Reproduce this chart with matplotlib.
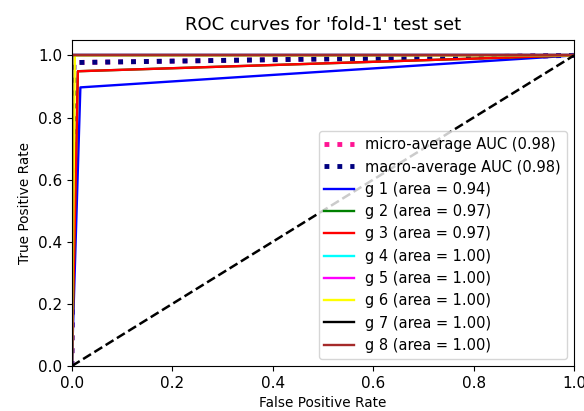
import numpy as np
import matplotlib
matplotlib.use('Agg')
import matplotlib.pyplot as plt

# ROC points (fpr, tpr)
micro_fpr = [0.0, 0.004, 1.0]
micro_tpr = [0.0, 0.977, 1.0]
macro_fpr = [0.0, 0.004, 1.0]
macro_tpr = [0.0, 0.977, 1.0]

class_names = ['g 1', 'g 2', 'g 3', 'g 4', 'g 5', 'g 6', 'g 7', 'g 8']
class_auc = [0.94, 0.97, 0.97, 1.00, 1.00, 1.00, 1.00, 1.00]
class_fpr = [
    [0.0, 0.017, 1.0],
    [0.0, 0.012, 1.0],
    [0.0, 0.012, 1.0],
    [0.0, 0.0, 1.0],
    [0.0, 0.0, 1.0],
    [0.0, 0.006, 1.0],
    [0.0, 0.0, 1.0],
    [0.0, 0.0, 1.0],
]
class_tpr = [
    [0.0, 0.897, 1.0],
    [0.0, 0.949, 1.0],
    [0.0, 0.949, 1.0],
    [0.0, 1.0, 1.0],
    [0.0, 1.0, 1.0],
    [0.0, 1.0, 1.0],
    [0.0, 1.0, 1.0],
    [0.0, 1.0, 1.0],
]
colors = ['blue', 'green', 'red', 'cyan', 'magenta', 'yellow', 'black', 'brown']

fig = plt.figure(figsize=(5.84, 4.11), dpi=100)
ax = fig.add_axes([0.123, 0.1095, 0.860, 0.7935])

ax.plot(micro_fpr, micro_tpr, label='micro-average AUC ({0:0.2f})'.format(0.98),
        color='deeppink', linestyle=':', linewidth=3.5)
ax.plot(macro_fpr, macro_tpr, label='macro-average AUC ({0:0.2f})'.format(0.98),
        color='navy', linestyle=':', linewidth=3.5)

for i in range(len(class_names)):
    ax.plot(class_fpr[i], class_tpr[i], color=colors[i], lw=1.7,
            label='{0} (area = {1:0.2f})'.format(class_names[i], class_auc[i]))

ax.plot([0, 1], [0, 1], 'k--', lw=1.8)
ax.set_xlim([0.0, 1.0])
ax.set_ylim([0.0, 1.05])
ax.set_xlabel('False Positive Rate', fontsize=9.8)
ax.set_ylabel('True Positive Rate', fontsize=9.8)
ax.set_title("ROC curves for 'fold-1' test set", fontsize=13, pad=7)
ax.tick_params(labelsize=11)
ax.legend(loc='lower right', fontsize=10.5)

plt.savefig('out.png', dpi=100)
